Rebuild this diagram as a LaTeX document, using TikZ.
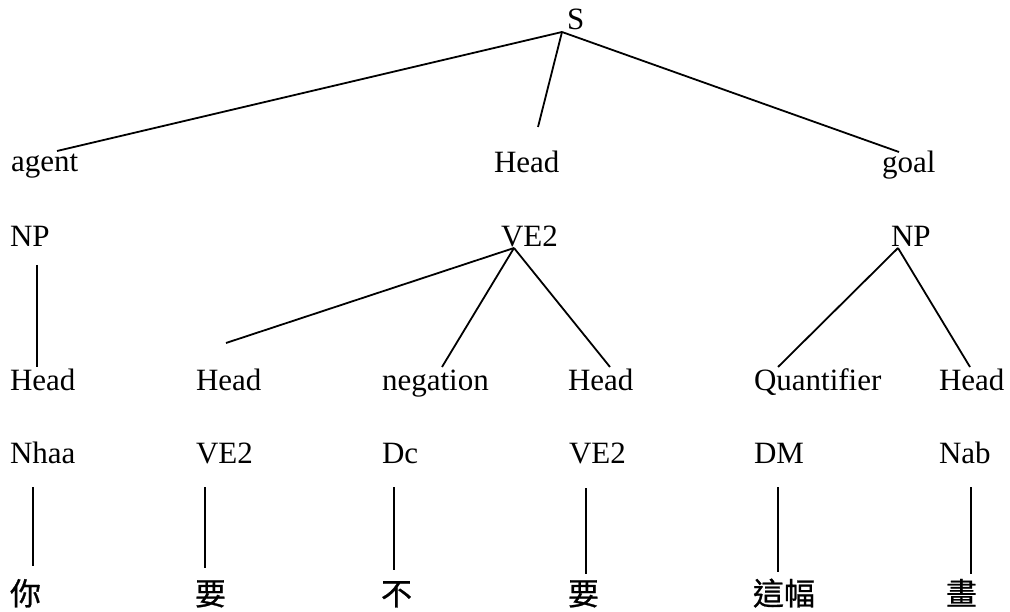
\documentclass[tikz,border=0pt]{standalone}
\usepackage{fontspec}
\setmainfont{Liberation Serif}
\newfontfamily\cjk[FakeBold=0.8]{Noto Sans CJK TC}
\begin{document}
\begin{tikzpicture}[x=1pt,y=-1pt,
  lbl/.style={anchor=base west,inner sep=0pt,outer sep=0pt,font=\fontsize{31}{31}\selectfont},
  zh/.style={anchor=base west,inner sep=0pt,outer sep=0pt,font=\cjk\fontsize{31}{31}\selectfont},
  edge/.style={draw=black,line width=1.8pt}]
\useasboundingbox (0,0) rectangle (1010,612);
% row 0
\node[lbl] (S) at (567,30) {S};
% row 1
\node[lbl] (agent) at (11,172) {agent};
\node[lbl] (head0) at (494,173) {Head};
\node[lbl] (goal) at (882,173) {goal};
% row 2
\node[lbl] (np1) at (10,247) {NP};
\node[lbl] (ve2m) at (501,247) {VE2};
\node[lbl] (np3) at (891,247) {NP};
% row 3
\node[lbl] (h1) at (10,391) {Head};
\node[lbl] (h2) at (196,391) {Head};
\node[lbl] (neg) at (382,391) {negation};
\node[lbl] (h4) at (568,391) {Head};
\node[lbl] (quant) at (754,391) {Quantifier};
\node[lbl] (h6) at (939,391) {Head};
% row 4
\node[lbl] (p1) at (10,463) {Nhaa};
\node[lbl] (p2) at (196,463) {VE2};
\node[lbl] (p3) at (382,463) {Dc};
\node[lbl] (p4) at (569,463) {VE2};
\node[lbl] (p5) at (754,463) {DM};
\node[lbl] (p6) at (939,463) {Nab};
% row 5
\node[zh] (w1) at (10,605) {你};
\node[zh] (w2) at (195,605) {要};
\node[zh] (w3) at (381,605) {不};
\node[zh] (w4) at (568,605) {要};
\node[zh] (w5) at (753,605) {這幅};
\node[zh] (w6) at (946,605) {畫};
% connector end points
\coordinate (Sj) at (562,32);
\coordinate (agentT) at (57,151);
\coordinate (head0T) at (538,127);
\coordinate (goalT) at (899,152);
\coordinate (np1B) at (37,265);
\coordinate (h1T) at (37,367);
\coordinate (ve2j) at (514,248);
\coordinate (h2T) at (226,343);
\coordinate (negT) at (442,367);
\coordinate (h4T) at (610,367);
\coordinate (np3j) at (898,248);
\coordinate (quantT) at (778,367);
\coordinate (h6T) at (970,367);
\coordinate (p1B) at (33,487); \coordinate (w1T) at (33,566);
\coordinate (p2B) at (205,487); \coordinate (w2T) at (205,568);
\coordinate (p3B) at (394,487); \coordinate (w3T) at (394,570);
\coordinate (p4B) at (586,488); \coordinate (w4T) at (586,574);
\coordinate (p5B) at (778,487); \coordinate (w5T) at (778,572);
\coordinate (p6B) at (971,487); \coordinate (w6T) at (971,574);
% connectors
\draw[edge] (Sj) -- (agentT);
\draw[edge] (Sj) -- (head0T);
\draw[edge] (Sj) -- (goalT);
\draw[edge] (np1B) -- (h1T);
\draw[edge] (ve2j) -- (h2T);
\draw[edge] (ve2j) -- (negT);
\draw[edge] (ve2j) -- (h4T);
\draw[edge] (np3j) -- (quantT);
\draw[edge] (np3j) -- (h6T);
\draw[edge] (p1B) -- (w1T);
\draw[edge] (p2B) -- (w2T);
\draw[edge] (p3B) -- (w3T);
\draw[edge] (p4B) -- (w4T);
\draw[edge] (p5B) -- (w5T);
\draw[edge] (p6B) -- (w6T);
\end{tikzpicture}
\end{document}
